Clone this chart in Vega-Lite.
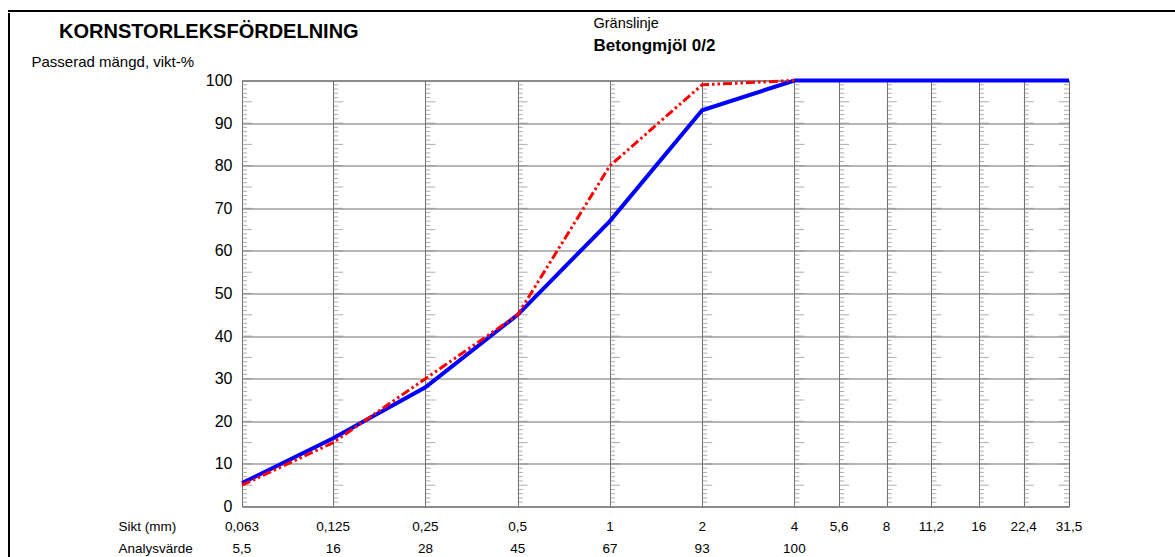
{
  "$schema": "https://vega.github.io/schema/vega-lite/v6.json",
  "padding": {"left": 8, "top": 10, "right": 0, "bottom": 0},
  "background": "white",
  "config": {
    "font": "Liberation Sans",
    "locale": {"number": {"decimal": ",", "thousands": " ", "grouping": [3], "currency": ["", " kr"]}},
    "view": {"stroke": null},
    "tick": {"orient": "horizontal", "thickness": 1, "color": "#8a8a8a"},
    "axis": {"labelColor": "#000", "titleColor": "#000", "labelFont": "Liberation Sans", "titleFont": "Liberation Sans"},
    "legend": {"labelFont": "Liberation Sans", "titleFont": "Liberation Sans"},
    "title": {"font": "Liberation Sans"}
  },
  "datasets": {
    "sikt": [
      {"sikt": 0.063, "analys": 5.5, "grans": 5},
      {"sikt": 0.125, "analys": 16, "grans": 15},
      {"sikt": 0.25, "analys": 28, "grans": 30},
      {"sikt": 0.5, "analys": 45, "grans": 45},
      {"sikt": 1, "analys": 67, "grans": 80},
      {"sikt": 2, "analys": 93, "grans": 99},
      {"sikt": 4, "analys": 100, "grans": 100},
      {"sikt": 5.6, "analys": 100, "grans": null},
      {"sikt": 8, "analys": 100, "grans": null},
      {"sikt": 11.2, "analys": 100, "grans": null},
      {"sikt": 16, "analys": 100, "grans": null},
      {"sikt": 22.4, "analys": 100, "grans": null},
      {"sikt": 31.5, "analys": 100, "grans": null}
    ],
    "skala": [
      {"p": 0}, {"p": 1}, {"p": 2}, {"p": 3}, {"p": 4}, {"p": 5}, {"p": 6}, {"p": 7}, {"p": 8}, {"p": 9},
      {"p": 10}, {"p": 11}, {"p": 12}, {"p": 13}, {"p": 14}, {"p": 15}, {"p": 16}, {"p": 17}, {"p": 18}, {"p": 19},
      {"p": 20}, {"p": 21}, {"p": 22}, {"p": 23}, {"p": 24}, {"p": 25}, {"p": 26}, {"p": 27}, {"p": 28}, {"p": 29},
      {"p": 30}, {"p": 31}, {"p": 32}, {"p": 33}, {"p": 34}, {"p": 35}, {"p": 36}, {"p": 37}, {"p": 38}, {"p": 39},
      {"p": 40}, {"p": 41}, {"p": 42}, {"p": 43}, {"p": 44}, {"p": 45}, {"p": 46}, {"p": 47}, {"p": 48}, {"p": 49},
      {"p": 50}, {"p": 51}, {"p": 52}, {"p": 53}, {"p": 54}, {"p": 55}, {"p": 56}, {"p": 57}, {"p": 58}, {"p": 59},
      {"p": 60}, {"p": 61}, {"p": 62}, {"p": 63}, {"p": 64}, {"p": 65}, {"p": 66}, {"p": 67}, {"p": 68}, {"p": 69},
      {"p": 70}, {"p": 71}, {"p": 72}, {"p": 73}, {"p": 74}, {"p": 75}, {"p": 76}, {"p": 77}, {"p": 78}, {"p": 79},
      {"p": 80}, {"p": 81}, {"p": 82}, {"p": 83}, {"p": 84}, {"p": 85}, {"p": 86}, {"p": 87}, {"p": 88}, {"p": 89},
      {"p": 90}, {"p": 91}, {"p": 92}, {"p": 93}, {"p": 94}, {"p": 95}, {"p": 96}, {"p": 97}, {"p": 98}, {"p": 99},
      {"p": 100}
    ]
  },
  "spacing": 0,
  "resolve": {"legend": {"color": "independent"}},
  "vconcat": [
    {
      "width": 1167,
      "height": 2,
      "view": {"fill": "#000", "stroke": null},
      "data": {"values": []},
      "mark": "point"
    },
    {
      "columns": 2,
      "spacing": 20,
      "align": "none",
      "resolve": {"legend": {"color": "independent"}},
      "concat": [
        {
          "width": 2,
          "height": 545,
          "view": {"fill": "#000", "stroke": null},
          "data": {"values": []},
          "mark": "point"
        },
        {
          "spacing": -1.5,
          "resolve": {"legend": {"color": "independent"}},
          "vconcat": [
            {
              "width": 827,
              "height": 1,
              "view": {"fill": null, "stroke": null},
              "data": {"values": []},
              "mark": "point"
            },
            {
              "width": 827,
              "height": 426,
              "view": {"stroke": "#555", "strokeWidth": 1},
              "title": {
                "text": "KORNSTORLEKSFÖRDELNING",
                "anchor": "start",
                "frame": "bounds",
                "dx": 28,
                "fontSize": 20,
                "fontWeight": "bold",
                "color": "#000",
                "offset": -29
              },
              "layer": [
                {
                  "data": {"name": "skala"},
                  "encoding": {
                    "y": {"field": "p", "type": "quantitative"},
                    "size": {"condition": {"test": "datum.p % 5 === 0", "value": 10}, "value": 5}
                  },
                  "layer": [
                    {"mark": {"type": "tick", "xOffset": {"expr": "datum.p % 5 === 0 ? 5 : 2.5"}}, "encoding": {"x": {"datum": 0.063}}},
                    {"mark": {"type": "tick", "xOffset": {"expr": "datum.p % 5 === 0 ? 5 : 2.5"}}, "encoding": {"x": {"datum": 0.125}}},
                    {"mark": {"type": "tick", "xOffset": {"expr": "datum.p % 5 === 0 ? 5 : 2.5"}}, "encoding": {"x": {"datum": 0.25}}},
                    {"mark": {"type": "tick", "xOffset": {"expr": "datum.p % 5 === 0 ? 5 : 2.5"}}, "encoding": {"x": {"datum": 0.5}}},
                    {"mark": {"type": "tick", "xOffset": {"expr": "datum.p % 5 === 0 ? 5 : 2.5"}}, "encoding": {"x": {"datum": 1}}},
                    {"mark": {"type": "tick", "xOffset": {"expr": "datum.p % 5 === 0 ? 5 : 2.5"}}, "encoding": {"x": {"datum": 2}}},
                    {"mark": {"type": "tick", "xOffset": {"expr": "datum.p % 5 === 0 ? 5 : 2.5"}}, "encoding": {"x": {"datum": 4}}},
                    {"mark": {"type": "tick", "xOffset": {"expr": "datum.p % 5 === 0 ? 5 : 2.5"}}, "encoding": {"x": {"datum": 5.6}}},
                    {"mark": {"type": "tick", "xOffset": {"expr": "datum.p % 5 === 0 ? 5 : 2.5"}}, "encoding": {"x": {"datum": 8}}},
                    {"mark": {"type": "tick", "xOffset": {"expr": "datum.p % 5 === 0 ? 5 : 2.5"}}, "encoding": {"x": {"datum": 11.2}}},
                    {"mark": {"type": "tick", "xOffset": {"expr": "datum.p % 5 === 0 ? 5 : 2.5"}}, "encoding": {"x": {"datum": 16}}},
                    {"mark": {"type": "tick", "xOffset": {"expr": "datum.p % 5 === 0 ? 5 : 2.5"}}, "encoding": {"x": {"datum": 22.4}}},
                    {"mark": {"type": "tick", "xOffset": {"expr": "datum.p % 5 === 0 ? -5 : -2.5"}}, "encoding": {"x": {"datum": 31.5}}}
                  ]
                },
                {
                  "data": {"name": "sikt"},
                  "mark": {"type": "line", "color": "#0000ff", "strokeWidth": 4},
                  "encoding": {
                    "x": {
                      "field": "sikt",
                      "type": "quantitative",
                      "scale": {"type": "log", "base": 2, "domain": [0.063, 31.5], "nice": false},
                      "axis": {
                        "values": [0.063, 0.125, 0.25, 0.5, 1, 2, 4, 5.6, 8, 11.2, 16, 22.4, 31.5],
                        "grid": true,
                        "gridColor": "#6e6e6e",
                        "labels": false,
                        "ticks": false,
                        "domain": false,
                        "title": null
                      }
                    },
                    "y": {
                      "field": "analys",
                      "type": "quantitative",
                      "scale": {"domain": [0, 100], "nice": false},
                      "axis": {
                        "values": [0, 10, 20, 30, 40, 50, 60, 70, 80, 90, 100],
                        "grid": true,
                        "gridColor": "#6e6e6e",
                        "ticks": false,
                        "domain": false,
                        "labelFontSize": 16,
                        "labelPadding": 10,
                        "title": "Passerad mängd, vikt-%",
                        "titleAngle": 0,
                        "titleAlign": "left",
                        "titleBaseline": "alphabetic",
                        "titleX": -211,
                        "titleY": -14,
                        "titleFontSize": 15,
                        "titleFontWeight": "normal"
                      }
                    }
                  }
                },
                {
                  "data": {"name": "sikt"},
                  "transform": [{"filter": "isValid(datum.grans)"}],
                  "mark": {"type": "line", "strokeWidth": 3, "strokeDash": [9, 3, 2.5, 3, 2.5, 3]},
                  "encoding": {
                    "x": {"field": "sikt", "type": "quantitative"},
                    "y": {"field": "grans", "type": "quantitative"},
                    "color": {
                      "datum": "Betongmjöl 0/2",
                      "scale": {"range": ["#ff0000"]},
                      "legend": {
                        "title": "Gränslinje",
                        "orient": "none",
                        "legendX": 348,
                        "legendY": -67.5,
                        "padding": 3.5,
                        "titleFontSize": 14.5,
                        "titleFontWeight": "normal",
                        "titleColor": "#000",
                        "titlePadding": 6.5,
                        "labelFontSize": 17,
                        "labelFontWeight": "bold",
                        "labelColor": "#000",
                        "labelOffset": -17,
                        "symbolSize": 0,
                        "symbolOpacity": 0,
                        "symbolStrokeWidth": 0
                      }
                    }
                  }
                }
              ]
            },
            {
              "width": 827,
              "height": 44,
              "data": {"name": "sikt"},
              "encoding": {
                "x": {
                  "field": "sikt",
                  "type": "quantitative",
                  "scale": {"type": "log", "base": 2, "domain": [0.063, 31.5], "nice": false},
                  "axis": null
                }
              },
              "layer": [
                {
                  "mark": {"type": "text", "fontSize": 13.5, "color": "#000"},
                  "encoding": {
                    "y": {
                      "datum": "Sikt (mm)",
                      "type": "nominal",
                      "scale": {"domain": ["Sikt (mm)", "Analysvärde"]},
                      "axis": {
                        "title": null,
                        "domain": false,
                        "ticks": false,
                        "tickSize": 0,
                        "grid": false,
                        "labelAlign": "left",
                        "labelPadding": 124,
                        "labelFontSize": 13.5,
                        "labelColor": "#000"
                      }
                    },
                    "text": {"field": "sikt", "type": "quantitative", "format": "~g"}
                  }
                },
                {
                  "transform": [{"filter": "datum.sikt <= 4"}],
                  "mark": {"type": "text", "fontSize": 13.5, "color": "#000"},
                  "encoding": {
                    "y": {"datum": "Analysvärde", "type": "nominal"},
                    "text": {"field": "analys", "type": "quantitative", "format": "~g"}
                  }
                }
              ]
            }
          ]
        }
      ]
    }
  ]
}
